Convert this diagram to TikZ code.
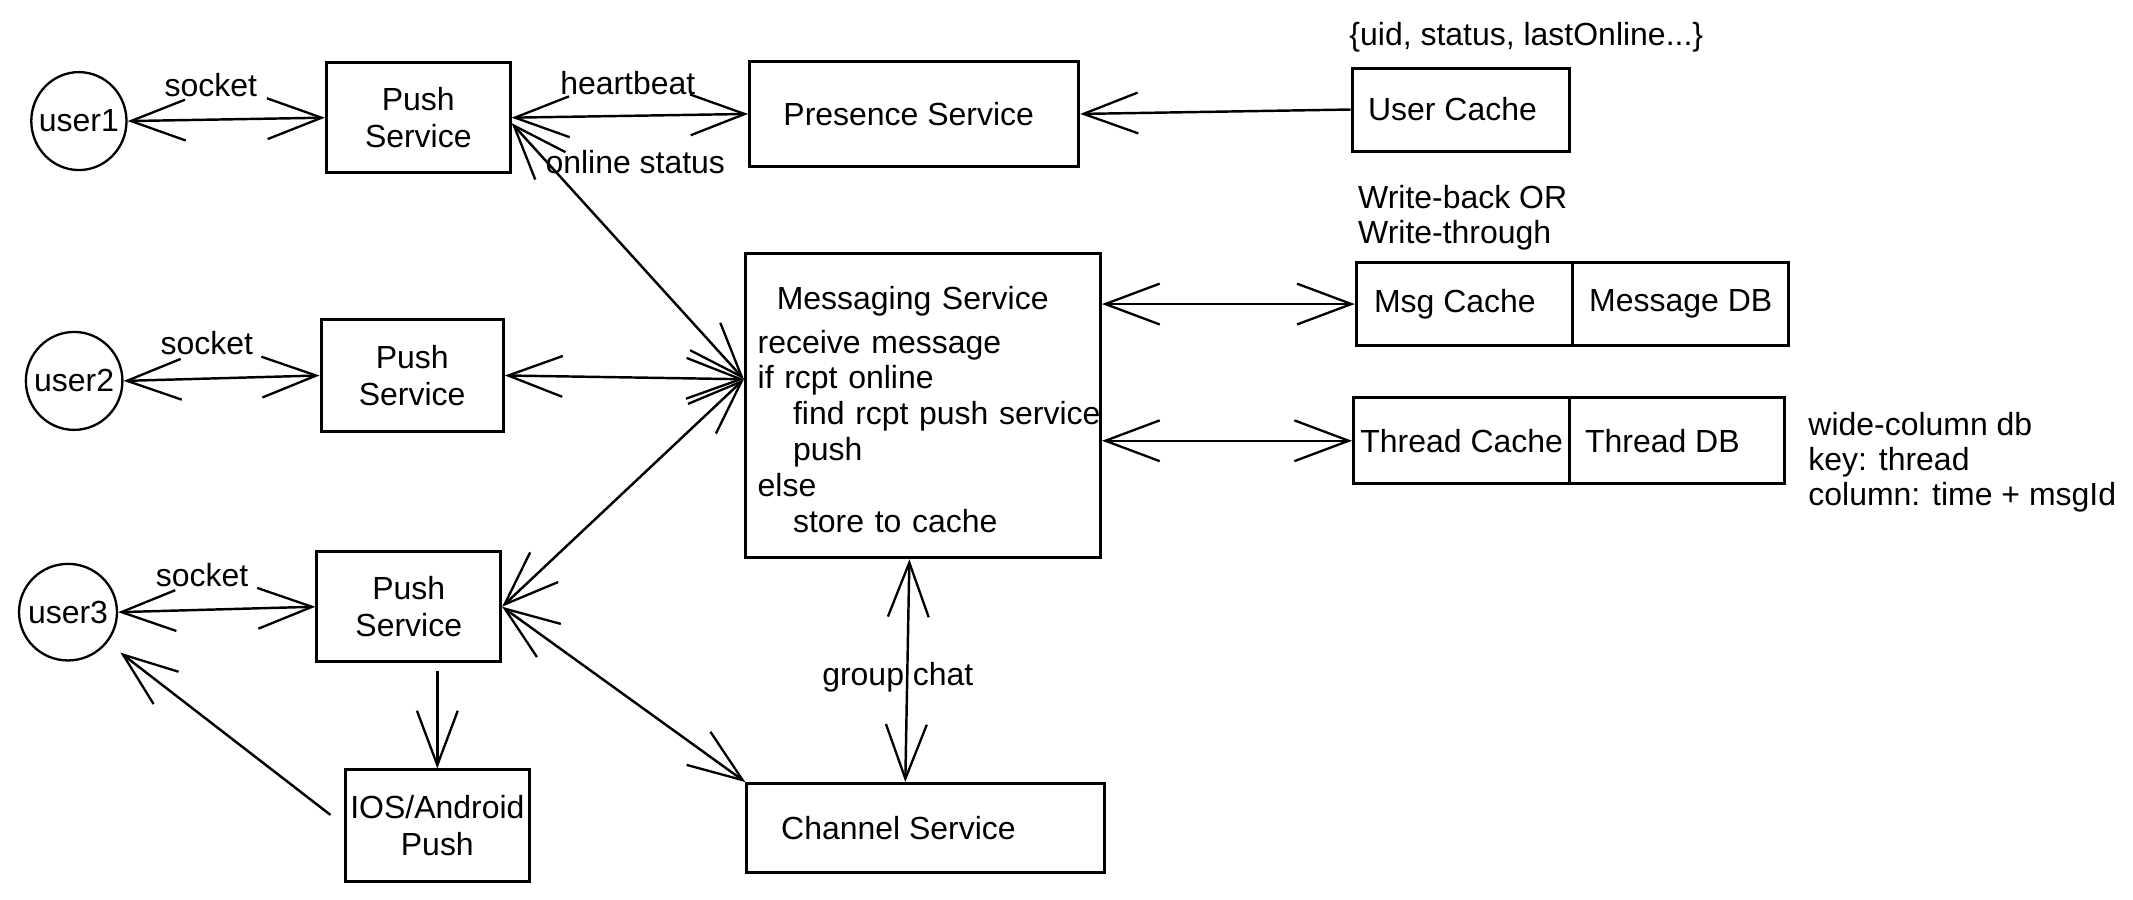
\documentclass[tikz,border=0pt]{standalone}
\usepackage{fontspec}
\setmainfont{Liberation Sans}
\usetikzlibrary{arrows.meta,shapes.geometric,calc}
\tikzset{barb/.tip={Straight Barb[length=20pt,width=15pt,line width=0.85pt]}}
\begin{document}
\begin{tikzpicture}[x=0.5pt,y=-0.5pt,
  every node/.style={font=\fontsize{11.75}{13.5}\selectfont},
  box/.style={draw, line width=1.1pt, inner sep=0pt, align=center},
  usr/.style={draw, ellipse, line width=0.85pt, inner sep=0pt},
  lbl/.style={inner sep=0pt},
  arr/.style={line width=0.9pt, barb-barb},
  arrto/.style={line width=0.9pt, -barb}]
\useasboundingbox (0,0) rectangle (1568,661);

% users
\node[usr, minimum width=35pt, minimum height=36pt] (user1) at (58,89) {\makebox[0pt]{user1}};
\node[usr, minimum width=35.5pt, minimum height=36pt] (user2) at (54.5,280) {\makebox[0pt]{user2}};
\node[usr, minimum width=36pt, minimum height=35.5pt] (user3) at (50,450) {\makebox[0pt]{user3}};

% push services
\node[box, minimum width=67.5pt, minimum height=40.5pt] (push1) at (307.5,86.5) {Push\\Service};
\node[box, minimum width=67pt, minimum height=41pt] (push2) at (303,276) {Push\\Service};
\node[box, minimum width=67.5pt, minimum height=40.5pt] (push3) at (300.5,446) {Push\\Service};
\node[box, minimum width=67.5pt, minimum height=41pt] (ios) at (321.5,607) {IOS/Android\\Push};

% services
\node[box, minimum width=121pt, minimum height=38.75pt] (presence) at (672,83.75) {Presence Service\hspace*{4pt}};
\node[box, minimum width=79.75pt, minimum height=30.5pt] (usercache) at (1073.75,80.5) {User Cache\hspace*{6pt}};
\node[box, minimum width=130.5pt, minimum height=112pt, text width=130.5pt, align=left,
      font=\fontsize{11.75}{13.2}\selectfont] (messaging) at (678.5,298)
  {\rule{0pt}{11.6pt}\hspace*{11.5pt}Messaging Service\\[2.8pt]
   \hspace*{4.5pt}receive message\\
   \hspace*{4.5pt}if rcpt online\\
   \hspace*{17.5pt}find rcpt push service\\
   \hspace*{17.5pt}push\\
   \hspace*{4.5pt}else\\
   \hspace*{17.5pt}store to cache};
\node[box, minimum width=79.5pt, minimum height=30.5pt] (msgcache) at (1076.5,223.5) {Msg Cache\hspace*{7pt}};
\node[box, minimum width=79.5pt, minimum height=30.5pt] (msgdb) at (1235.5,223.5) {Message DB};
\node[box, minimum width=79.5pt, minimum height=31.5pt] (threadcache) at (1074.5,324) {Thread Cache};
\node[box, minimum width=79pt, minimum height=31.5pt] (threaddb) at (1233,324) {Thread DB\hspace*{11pt}};
\node[box, minimum width=131.5pt, minimum height=32.75pt] (channel) at (680.5,608.75) {Channel Service\hspace*{20pt}};

% labels
\node[lbl] (sock1) at (155,62.5) {socket};
\node[lbl] (sock2) at (152,252) {socket};
\node[lbl] (sock3) at (148.5,423) {socket};
\node[lbl] (hb) at (461.5,61) {heartbeat};
\node[lbl] (online) at (467,119) {online status};
\node[lbl] (gchat) at (660,497.5) {group chat};
\node[lbl] (uid) at (1122,27) {\{uid, status, lastOnline...\}};
\node[lbl, anchor=west, align=left, font=\fontsize{11.75}{13}\selectfont] (wb) at (998,160) {Write-back OR\\Write-through};
\node[lbl, anchor=west, align=left, font=\fontsize{11.75}{12.9}\selectfont] (wide) at (1329,340) {wide-column db\\key: thread\\column: time + msgId};

% connectors
\coordinate (hub) at ($(messaging.north west)!0.415!(messaging.south west)$);
\draw[arr] (user1.east) -- (push1.west);
\draw[arr] (user2.east) -- (push2.west);
\draw[arr] (user3.east) -- (push3.west);
\draw[arr] (push1.east) -- (presence.west);
\draw[arrto] (usercache.west) -- (presence.east);
\draw[arr] ($(push1.east)+(0,4)$) -- (hub);
\draw[arr] (push2.east) -- (hub);
\draw[arr] (hub) -- (push3.east);
\draw[arrto, shorten <=3pt] (push3.south -| ios.north) -- (ios.north);
\draw[arrto, shorten >=6pt] ($(ios.west)+(-10,-8)$) -- (user3);
\draw[arr] (push3.east) -- (channel.north west);
\draw[arr] ($(messaging.south)+(-10,0)$) -- ($(channel.north)+(-15,0)$);
\draw[arr] (messaging.east |- msgcache.west) -- (msgcache.west);
\draw[arr] (messaging.east |- threadcache.west) -- (threadcache.west);
\end{tikzpicture}
\end{document}
